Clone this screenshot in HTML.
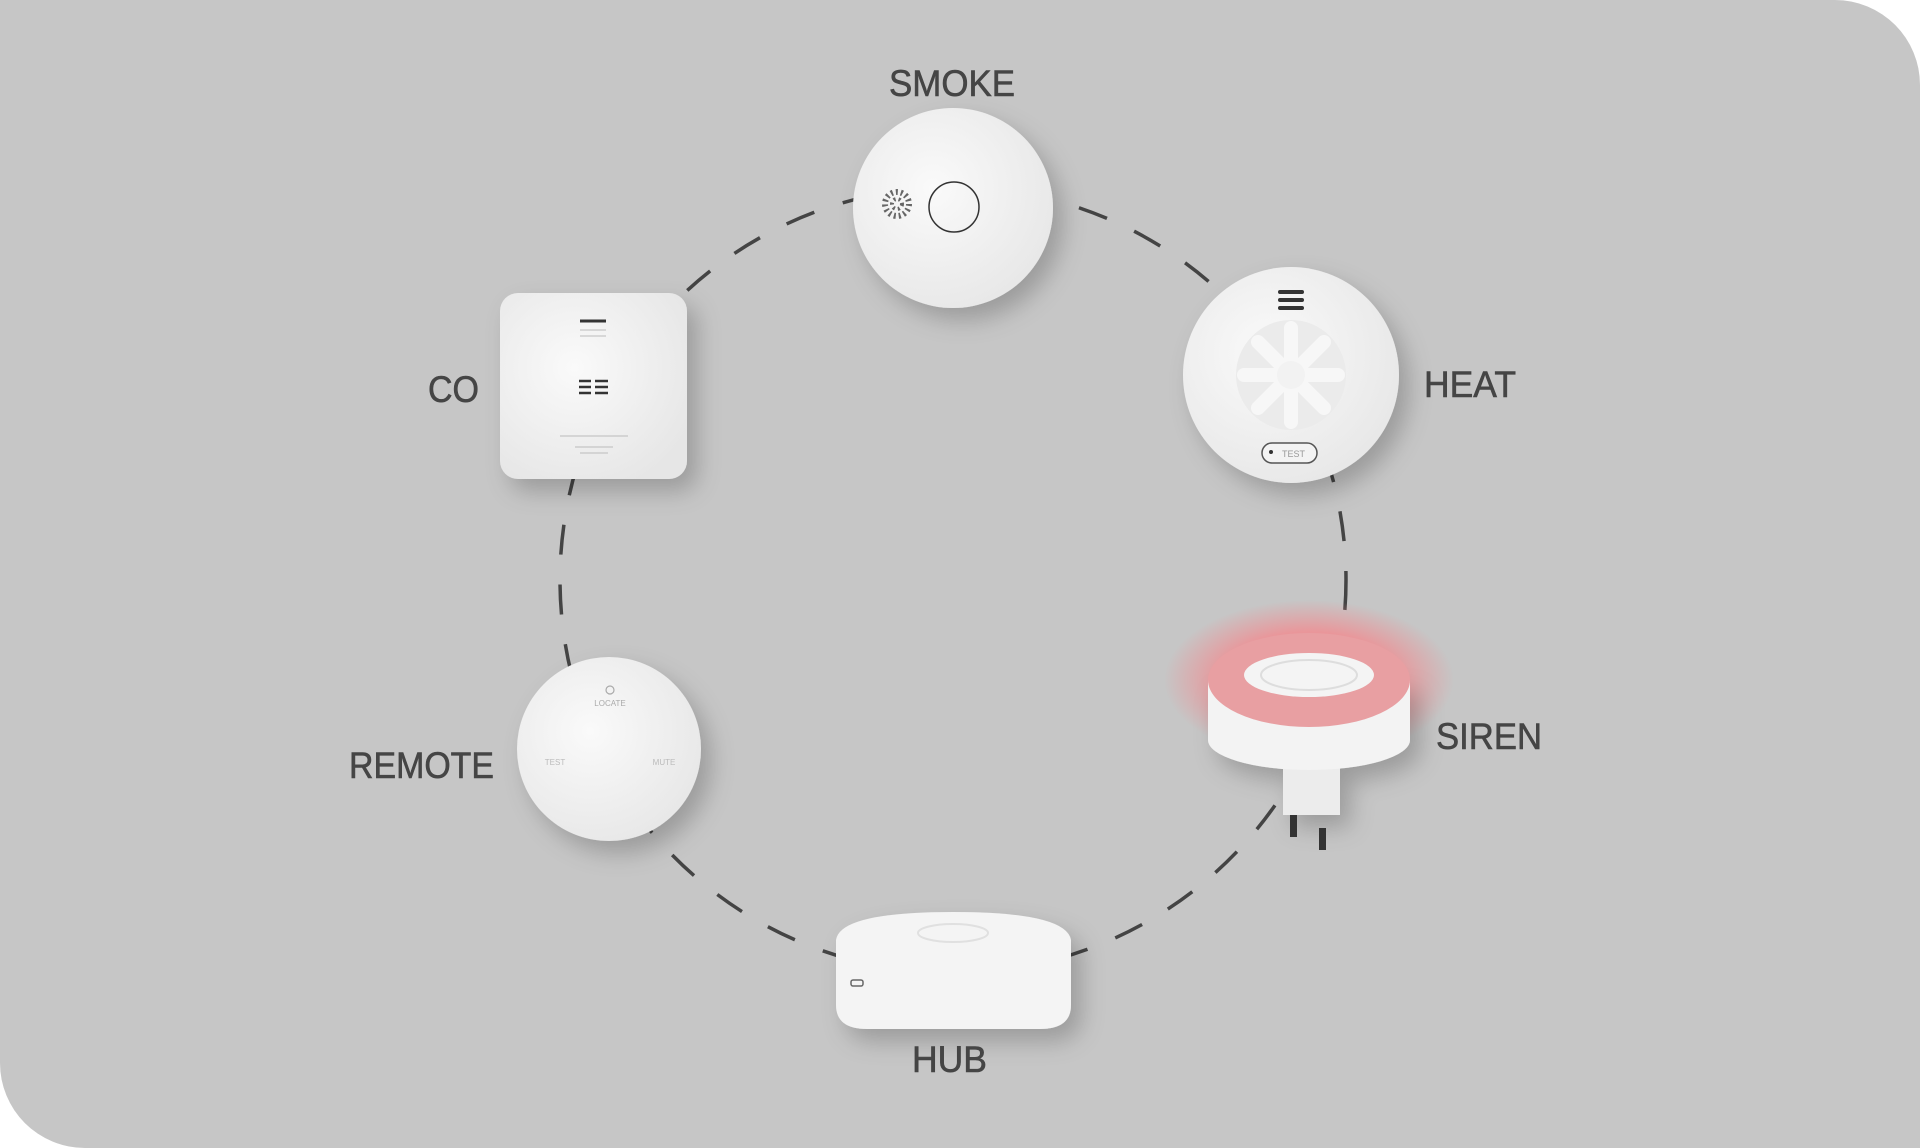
<!DOCTYPE html>
<html><head><meta charset="utf-8"><style>
html,body{margin:0;padding:0;background:#fff;width:1920px;height:1148px;overflow:hidden}
svg{display:block}
text{font-family:"Liberation Sans",sans-serif;fill:#454545;font-size:36px}
.l{font-size:37px;stroke:#454545;stroke-width:0.6}
</style></head><body>
<svg width="1920" height="1148" viewBox="0 0 1920 1148" xmlns="http://www.w3.org/2000/svg">
<defs>
<filter id="sh" x="-50%" y="-50%" width="200%" height="200%"><feDropShadow dx="10" dy="12" stdDeviation="12" flood-color="#000" flood-opacity="0.22"/></filter>
<radialGradient id="wg" cx="40%" cy="40%" r="70%"><stop offset="0" stop-color="#fafafa"/><stop offset="1" stop-color="#e6e6e6"/></radialGradient>
<radialGradient id="glow" cx="50%" cy="50%" r="50%"><stop offset="0.6" stop-color="#f28a8f" stop-opacity="0.8"/><stop offset="1" stop-color="#f28a8f" stop-opacity="0"/></radialGradient>
</defs>
<path d="M0 0 H1835 A85 85 0 0 1 1920 85 V1148 H85 A85 85 0 0 1 0 1063 Z" fill="#c6c6c6"/>
<circle cx="953" cy="580" r="393" fill="none" stroke="#444" stroke-width="3.5" stroke-dasharray="30 30"/>

<!-- SMOKE -->
<circle cx="953" cy="208" r="100" fill="url(#wg)" filter="url(#sh)"/>
<circle cx="954" cy="207" r="25" fill="none" stroke="#333" stroke-width="1.5"/>
<circle cx="897" cy="204" r="12" fill="none" stroke="#666" stroke-width="6" stroke-dasharray="2 3"/>
<circle cx="897" cy="204" r="5" fill="none" stroke="#666" stroke-width="4" stroke-dasharray="2 3"/>
<text class="l" x="889" y="96" textLength="126" lengthAdjust="spacingAndGlyphs">SMOKE</text>

<!-- HEAT -->
<circle cx="1291" cy="375" r="108" fill="url(#wg)" filter="url(#sh)"/>
<g stroke="#333" stroke-width="4" stroke-linecap="round"><line x1="1280" y1="292" x2="1302" y2="292"/><line x1="1280" y1="300" x2="1302" y2="300"/><line x1="1280" y1="308" x2="1302" y2="308"/></g>
<circle cx="1291" cy="375" r="55" fill="#ebebeb"/>
<g stroke="#f7f7f7" stroke-width="14" stroke-linecap="round">
<line x1="1291" y1="375" x2="1291" y2="328"/><line x1="1291" y1="375" x2="1324" y2="342"/><line x1="1291" y1="375" x2="1338" y2="375"/><line x1="1291" y1="375" x2="1324" y2="408"/><line x1="1291" y1="375" x2="1291" y2="422"/><line x1="1291" y1="375" x2="1258" y2="408"/><line x1="1291" y1="375" x2="1244" y2="375"/><line x1="1291" y1="375" x2="1258" y2="342"/></g>
<circle cx="1291" cy="375" r="14" fill="#f2f2f2"/>
<rect x="1262" y="443" width="55" height="20" rx="10" fill="#f3f3f3" stroke="#555" stroke-width="1.5"/>
<circle cx="1271" cy="452" r="2" fill="#333"/>
<text x="1282" y="457" style="font-size:9px;fill:#999">TEST</text>
<text class="l" x="1424" y="397" textLength="92" lengthAdjust="spacingAndGlyphs">HEAT</text>

<!-- CO -->
<rect x="500" y="293" width="187" height="186" rx="18" fill="url(#wg)" filter="url(#sh)"/>
<line x1="580" y1="321" x2="606" y2="321" stroke="#333" stroke-width="3"/>
<g stroke="#333" stroke-width="2.5"><line x1="579" y1="381" x2="591" y2="381"/><line x1="579" y1="387" x2="591" y2="387"/><line x1="579" y1="393" x2="591" y2="393"/><line x1="595" y1="381" x2="608" y2="381"/><line x1="595" y1="387" x2="608" y2="387"/><line x1="595" y1="393" x2="608" y2="393"/></g>
<g stroke="#bbb" stroke-width="1"><line x1="560" y1="436" x2="628" y2="436"/><line x1="575" y1="447" x2="613" y2="447"/><line x1="580" y1="453" x2="608" y2="453"/><line x1="580" y1="330" x2="606" y2="330"/><line x1="580" y1="336" x2="606" y2="336"/></g>
<text class="l" x="428" y="402" textLength="51" lengthAdjust="spacingAndGlyphs">CO</text>

<!-- REMOTE -->
<circle cx="609" cy="749" r="92" fill="url(#wg)" filter="url(#sh)"/>
<text x="610" y="706" text-anchor="middle" style="font-size:8px;fill:#aaa">LOCATE</text>
<text x="555" y="765" text-anchor="middle" style="font-size:8px;fill:#bbb">TEST</text>
<text x="664" y="765" text-anchor="middle" style="font-size:8px;fill:#bbb">MUTE</text>
<circle cx="610" cy="690" r="4" fill="none" stroke="#aaa" stroke-width="1.2"/>
<text class="l" x="349" y="778" textLength="145" lengthAdjust="spacingAndGlyphs">REMOTE</text>

<!-- HUB -->
<g filter="url(#sh)">
<path d="M836 940 Q840 912 953 912 Q1066 912 1071 940 V1005 Q1071 1029 1040 1029 H867 Q836 1029 836 1005 Z" fill="#f4f4f4"/>
</g>
<ellipse cx="953" cy="933" rx="35" ry="9" fill="none" stroke="#e0e0e0" stroke-width="2"/>
<rect x="851" y="980" width="12" height="6" rx="2" fill="none" stroke="#666" stroke-width="1.5"/>
<text class="l" x="912" y="1072" textLength="75" lengthAdjust="spacingAndGlyphs">HUB</text>

<!-- SIREN -->
<ellipse cx="1309" cy="680" rx="145" ry="80" fill="url(#glow)"/>
<g filter="url(#sh)">
<rect x="1283" y="740" width="57" height="75" fill="#ececec"/>
<path d="M1208 680 V740 A101 30 0 0 0 1410 740 V680 Z" fill="#f3f3f3"/>
</g>
<rect x="1290" y="815" width="7" height="22" fill="#333"/>
<rect x="1319" y="828" width="7" height="22" fill="#333"/>
<ellipse cx="1309" cy="680" rx="101" ry="47" fill="#e89fa2"/>
<ellipse cx="1309" cy="675" rx="65" ry="22" fill="#f4f4f4"/>
<ellipse cx="1309" cy="675" rx="48" ry="15" fill="none" stroke="#ddd" stroke-width="2"/>
<text class="l" x="1436" y="749" textLength="106" lengthAdjust="spacingAndGlyphs">SIREN</text>
</svg>
</body></html>
